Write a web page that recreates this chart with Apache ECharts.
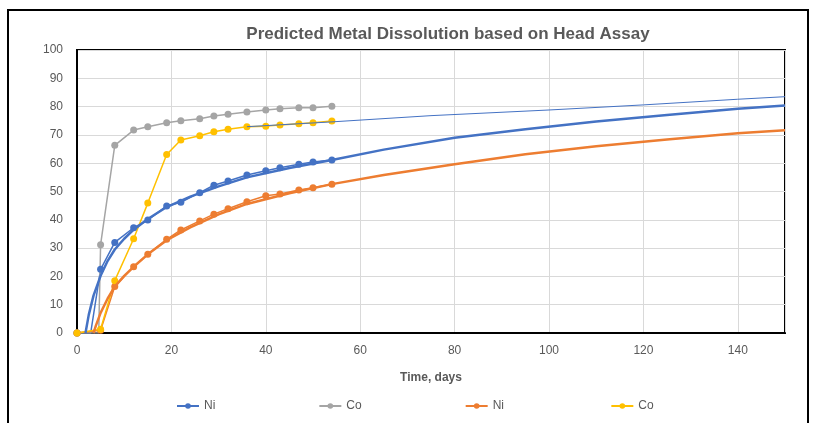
<!DOCTYPE html>
<html>
<head>
<meta charset="utf-8">
<script src="https://cdn.jsdelivr.net/npm/echarts@6/dist/echarts.min.js"></script>
<style>
html,body{margin:0;padding:0;background:#fff;}
#chart{width:813px;height:423px;}
</style>
</head>
<body>
<div id="chart"></div>
<script>
// ---- data ----
var days   = [0, 5, 8, 12, 15, 19, 22, 26, 29, 32, 36, 40, 43, 47, 50, 54];
var niA    = [0, 22.5, 32.0, 37.2, 39.9, 44.9, 46.2, 49.6, 52.2, 53.7, 55.8, 57.3, 58.4, 59.6, 60.4, 61.1];
var coA    = [0, 31.2, 66.3, 71.7, 72.9, 74.3, 75.0, 75.7, 76.7, 77.3, 78.1, 78.8, 79.2, 79.6, 79.6, 80.1];
var niB    = [0, 1.0, 16.4, 23.4, 27.8, 33.1, 36.4, 39.6, 42.0, 43.9, 46.4, 48.5, 49.1, 50.5, 51.3, 52.6];
var coB    = [0, 1.3, 18.5, 33.3, 45.9, 63.1, 68.2, 69.7, 71.1, 72.0, 72.9, 73.1, 73.5, 73.9, 74.3, 74.9];
// hidden lead-in points (line leaves the axis here, no marker)
var niALead = [2.9, 0];
var coALead = [4.6, 0];
// trend curves
var niTrendDays = [1.8, 2.5, 3.5, 5, 6.5, 8, 10, 12, 15, 19, 24, 30, 36, 45, 54, 65, 80, 95, 110, 125, 140, 150];
var niTrendVals = [0, 6.5, 13.2, 20.2, 25.5, 29.5, 33.3, 36.5, 40.3, 44.5, 48.2, 51.8, 55.0, 58.3, 61.1, 64.8, 69.0, 72.0, 74.7, 77.0, 79.2, 80.4];
var niBTrendDays = [3.5, 4, 5, 6.5, 8, 10, 12, 15, 19, 24, 30, 36, 45, 54, 65, 80, 95, 110, 125, 140, 150];
var niBTrendVals = [0, 2.6, 7.1, 12.2, 16.4, 20.2, 23.4, 27.8, 32.8, 37.3, 41.9, 45.6, 49.4, 52.6, 55.8, 59.6, 63.2, 66.0, 68.4, 70.6, 71.6];
var coTrendDays = [36, 54, 75, 100, 120, 140, 150];
var coTrendVals = [72.9, 74.6, 76.8, 78.8, 80.6, 82.6, 83.5];
var yTicks = {min: 0, max: 100, step: 10};
var xTicks = {min: 0, max: 150, step: 20};

var BLUE = '#4472C4', GRAY = '#A5A5A5', ORANGE = '#ED7D31', YELLOW = '#FFC000';
var FONT = 'Liberation Sans';

function pairs(xs, ys) { return xs.map(function (x, i) { return [x, ys[i]]; }); }
function withLead(xs, ys, lead) {
  var d = pairs(xs, ys);
  d.splice(1, 0, {value: lead, symbol: 'none'});
  return d;
}

function dataSeries(name, color, data) {
  return {
    name: name, type: 'line', data: data,
    symbol: 'circle', symbolSize: 7,
    lineStyle: {color: color, width: 1.5},
    itemStyle: {color: color},
    emphasis: {disabled: true},
    animation: false, z: 3
  };
}
function trendSeries(name, color, data, width) {
  return {
    name: name, type: 'line', data: data,
    symbol: 'none', smooth: false,
    lineStyle: {color: color, width: width},
    itemStyle: {color: color},
    emphasis: {disabled: true},
    animation: false, z: 4
  };
}

var chart = echarts.init(document.getElementById('chart'));
chart.setOption({
  backgroundColor: '#fff',
  animation: false,
  title: {
    text: 'Predicted Metal Dissolution based on Head Assay',
    left: 443, top: 21, textAlign: 'center',
    textStyle: {fontFamily: FONT, fontSize: 17, fontWeight: 'bold', color: '#595959'}
  },
  grid: {left: 77, right: 28, top: 50, bottom: 90, show: true, borderColor: '#000', borderWidth: 2, backgroundColor: 'transparent'},
  xAxis: {
    type: 'value', min: xTicks.min, max: xTicks.max, interval: xTicks.step,
    name: 'Time, days', nameLocation: 'middle', nameGap: 39,
    nameTextStyle: {fontFamily: FONT, fontSize: 12, fontWeight: 'bold', color: '#595959'},
    axisLine: {show: true, lineStyle: {color: '#000', width: 2}},
    axisTick: {show: false},
    axisLabel: {fontFamily: FONT, fontSize: 12, color: '#595959', margin: 12, showMaxLabel: false},
    splitLine: {show: true, lineStyle: {color: '#d9d9d9', width: 1}}
  },
  yAxis: {
    type: 'value', min: yTicks.min, max: yTicks.max, interval: yTicks.step,
    axisLine: {show: true, lineStyle: {color: '#000', width: 2}},
    axisTick: {show: false},
    axisLabel: {fontFamily: FONT, fontSize: 12, color: '#595959', margin: 14},
    splitLine: {show: true, lineStyle: {color: '#d9d9d9', width: 1}}
  },
  legend: {
    data: ['Ni', 'Co', 'Ni ', 'Co '],
    left: 171, top: 395, itemGap: 103, itemWidth: 22, itemHeight: 7,
    textStyle: {fontFamily: FONT, fontSize: 12, color: '#595959'}
  },
  graphic: [{
    type: 'rect', silent: true, z: 100,
    shape: {x: 8, y: 10, width: 800, height: 430},
    style: {fill: 'none', stroke: '#000', lineWidth: 2}
  }],
  series: [
    dataSeries('Ni', BLUE, withLead(days, niA, niALead)),
    dataSeries('Co', GRAY, withLead(days, coA, coALead)),
    dataSeries('Ni ', ORANGE, pairs(days, niB)),
    dataSeries('Co ', YELLOW, pairs(days, coB)),
    trendSeries('NiTrend', BLUE, pairs(niTrendDays, niTrendVals), 2.5),
    trendSeries('NiBTrend', ORANGE, pairs(niBTrendDays, niBTrendVals), 2.5),
    trendSeries('CoTrend', BLUE, pairs(coTrendDays, coTrendVals), 1)
  ]
});
</script>
</body>
</html>
